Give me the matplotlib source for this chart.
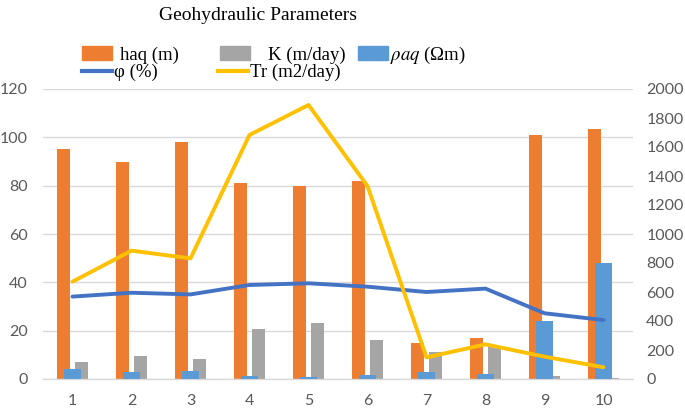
import numpy as np
import matplotlib
matplotlib.use("Agg")
import matplotlib.pyplot as plt
from matplotlib.patches import Patch
from matplotlib.lines import Line2D

plt.rcParams['mathtext.fontset'] = 'stix'

categories = [1, 2, 3, 4, 5, 6, 7, 8, 9, 10]
haq = [95, 90, 98, 81, 80, 82, 15, 17, 101, 103.3]        # m (left axis)
K = [7, 9.7, 8.3, 20.5, 23.3, 16, 11, 13.5, 1.2, 0.5]      # m/day (left axis)
rho_aq = [68, 48, 55, 20, 17, 28, 47, 32, 400, 800]        # Ohm m (right axis)
phi = [34.1, 35.7, 35.0, 38.9, 39.6, 38.2, 36.0, 37.4, 27.2, 24.4]  # % (left axis)
Tr = [671, 885, 832, 1683, 1890, 1331, 149, 239, 154, 81]  # m2/day (right axis)

left_ticks = list(range(0, 121, 20))
right_ticks = list(range(0, 2001, 200))

C_ORANGE = '#ED7D31'
C_GRAY = '#A5A5A5'
C_BLUE = '#5B9BD5'
C_PHI = '#4472C4'
C_TR = '#FFC000'
C_TXT = '#595959'
C_GRID = '#D9D9D9'

W, H = 685, 409
fig = plt.figure(figsize=(W / 100, H / 100), dpi=100)
ax = fig.add_axes([43 / W, 1 - 379 / H, 590 / W, 290 / H])

x = np.arange(len(categories))
ax.bar(x - 0.145, haq, width=0.22, color=C_ORANGE, zorder=2)
ax.bar(x + 0.145, K, width=0.22, color=C_GRAY, zorder=2)
ax.set_xlim(-0.5, len(categories) - 0.5)
ax.set_ylim(0, 120)
ax.set_yticks(left_ticks)
ax.set_xticks(x)
ax.set_xticklabels([str(c) for c in categories])
ax.grid(axis='y', color=C_GRID, lw=1)
ax.set_axisbelow(True)
for s in ['top', 'left', 'right']:
    ax.spines[s].set_visible(False)
ax.spines['bottom'].set_color(C_GRID)
ax.spines['bottom'].set_linewidth(1)
ax.tick_params(axis='both', length=0, colors=C_TXT, labelsize=11.5)
ax.tick_params(axis='y', pad=11)
ax.tick_params(axis='x', pad=10.5)
for lab in ax.get_xticklabels() + ax.get_yticklabels():
    lab.set_fontfamily('Lato')

ax2 = ax.twinx()
ax2.bar(x, rho_aq, width=0.305, color=C_BLUE, zorder=2)
ax2.set_ylim(0, 2000)
ax2.set_yticks(right_ticks)
for s in ax2.spines.values():
    s.set_visible(False)
ax2.tick_params(axis='y', length=0, colors=C_TXT, labelsize=11.5, pad=9.5)
for lab in ax2.get_yticklabels():
    lab.set_fontfamily('Lato')

ax3 = ax.twinx()
ax3.plot(x, phi, color=C_PHI, lw=2.8, solid_capstyle='round', solid_joinstyle='round')
ax3.set_ylim(0, 120)
ax3.axis('off')

ax4 = ax.twinx()
ax4.plot(x, Tr, color=C_TR, lw=2.8, solid_capstyle='round', solid_joinstyle='round')
ax4.set_ylim(0, 2000)
ax4.axis('off')
ax4.set_xlim(-0.5, len(categories) - 0.5)

fig.text(258 / W, 1 - 15 / H, 'Geohydraulic Parameters', fontsize=14,
         family='Liberation Serif', ha='center', va='center', color='black')

leg_font = dict(family='Liberation Serif', size=13.5)
entries = [
    (Patch(color=C_ORANGE), 'haq (m)', 82, 55, 0.42),
    (Patch(color=C_GRAY), 'K (m/day)', 220, 55, 0.95),
    (Patch(color=C_BLUE), r'$\rho aq$ (Ωm)', 358, 55, 0.1),
    (Line2D([], [], color=C_PHI, lw=3), 'φ (%)', 82, 72.5, 0.1),
    (Line2D([], [], color=C_TR, lw=3), 'Tr (m2/day)', 218, 72.5, 0.1),
]
for h, lab, px, py, pad in entries:
    fig.legend(handles=[h], labels=[lab], loc='center left',
               bbox_to_anchor=(px / W, 1 - py / H), frameon=False,
               borderpad=0, borderaxespad=0, handlelength=1.6,
               handleheight=0.7, handletextpad=pad, prop=leg_font)

fig.savefig('out.png', dpi=100)
